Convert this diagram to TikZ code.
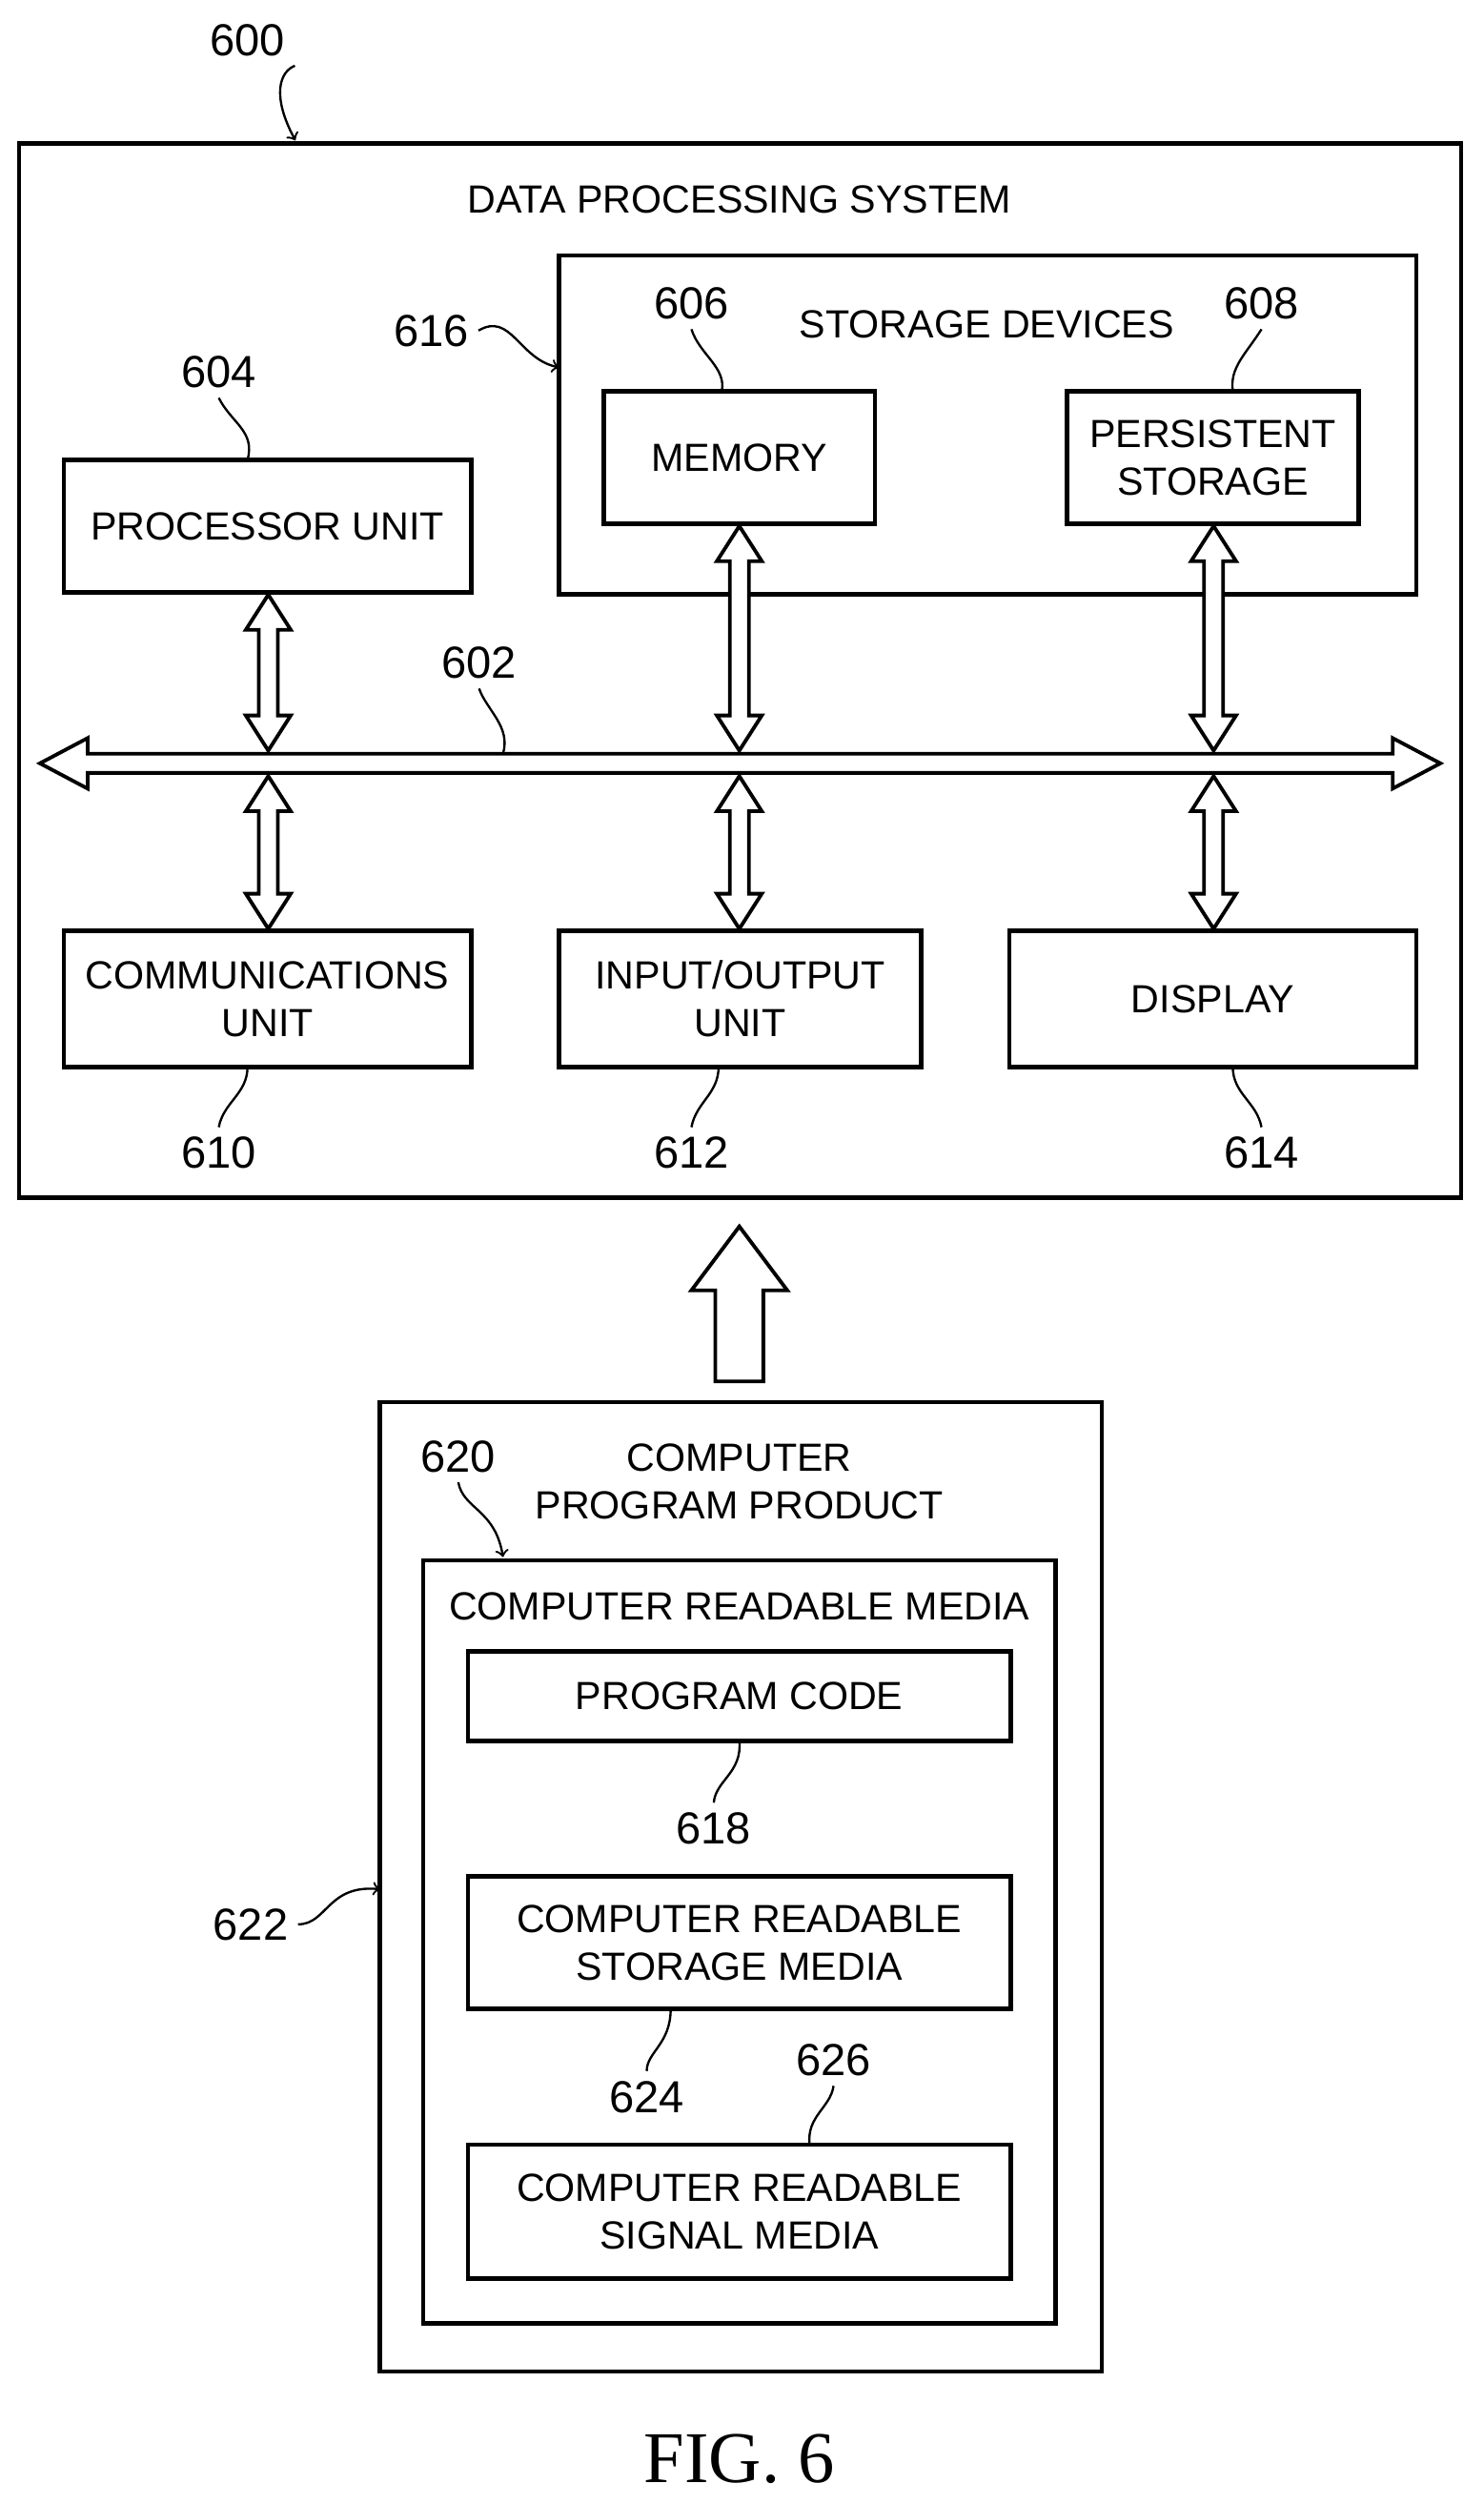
\documentclass[tikz,border=0pt]{standalone}
\usepackage{fontspec}
\setmainfont{Liberation Sans}
\newfontfamily\figfont{Liberation Serif}
\usetikzlibrary{calc}

\tikzset{
  box/.style={draw, line width=1.6pt, inner sep=0pt},
  lbl/.style={font=\fontsize{14}{17}\selectfont, align=center},
  num/.style={font=\fontsize{16}{18}\selectfont},
  lead/.style={line width=0.8pt},
  fat/.style={draw, line width=1.3pt, fill=white, line join=miter},
}
% vertical hollow double arrow between two points on one x
\newcommand\updown[2]{%
  \path[fat] let \p1=(#1), \p2=(#2) in
    (\x1,\y1) -- (\x1+8pt,\y1-12.5pt) -- (\x1+3.4pt,\y1-12.5pt) --
    (\x1+3.4pt,\y2+12.5pt) -- (\x1+8pt,\y2+12.5pt) -- (\x1,\y2) --
    (\x1-8pt,\y2+12.5pt) -- (\x1-3.4pt,\y2+12.5pt) --
    (\x1-3.4pt,\y1-12.5pt) -- (\x1-8pt,\y1-12.5pt) -- cycle;}

\begin{document}
\begin{tikzpicture}[x=0.02cm, y=-0.02cm]
  \useasboundingbox (0,0) rectangle (929,1568);

  % data processing system
  \draw[box] (12,90) rectangle (915,750);
  \node[lbl] (dps) at (463,125) {DATA PROCESSING SYSTEM};
  \draw[box] (350,160) rectangle (887,372);
  \node[lbl] (sd) at (618,203) {STORAGE DEVICES};

  \node[box, lbl, minimum width=3.4cm, minimum height=1.66cm] (mem) at (463,286.5) {MEMORY};
  \node[box, lbl, minimum width=3.66cm, minimum height=1.66cm] (pers) at (759.5,286.5) {PERSISTENT\\STORAGE};
  \node[box, lbl, minimum width=5.1cm, minimum height=1.66cm] (proc) at (167.5,329.5) {PROCESSOR UNIT};
  \node[box, lbl, minimum width=5.1cm, minimum height=1.7cm] (comm) at (167.5,625.5) {COMMUNICATIONS\\UNIT};
  \node[box, lbl, minimum width=4.54cm, minimum height=1.7cm] (io) at (463.5,625.5) {INPUT/OUTPUT\\UNIT};
  \node[box, lbl, minimum width=5.1cm, minimum height=1.7cm] (disp) at (759.5,625.5) {DISPLAY};

  % bus taps
  \coordinate (b1) at (168,470); \coordinate (b2) at (168,486);
  \coordinate (b3) at (463,470); \coordinate (b4) at (463,486);
  \coordinate (b5) at (760,470); \coordinate (b6) at (760,486);
  \updown{proc.south-|b1}{b1}
  \updown{b2}{comm.north-|b2}
  \updown{mem.south}{b3}
  \updown{b4}{io.north-|b4}
  \updown{pers.south-|b5}{b5}
  \updown{b6}{disp.north-|b6}

  % bus
  \coordinate (busl) at (25,478); \coordinate (busr) at (902,478);
  \path[fat] let \p1=(busl), \p2=(busr) in
    (\x1,\y1) -- (\x1+17pt,\y1+9pt) -- (\x1+17pt,\y1+3.4pt) --
    (\x2-17pt,\y1+3.4pt) -- (\x2-17pt,\y1+9pt) -- (\x2,\y1) --
    (\x2-17pt,\y1-9pt) -- (\x2-17pt,\y1-3.4pt) --
    (\x1+17pt,\y1-3.4pt) -- (\x1+17pt,\y1-9pt) -- cycle;

  % reference numbers
  \node[num] (n600) at (155,25) {600};
  \draw[lead, ->] (n600.south east) .. controls (175,45) and (170,60) .. (185,88);
  \node[num] (n604) at (137,233) {604};
  \draw[lead] (n604.south) .. controls (145,265) and (160,270) .. (155,288);
  \node[num] (n606) at (433,190) {606};
  \draw[lead] (n606.south) .. controls (438,222) and (455,230) .. (452,245);
  \node[num] (n608) at (790,190) {608};
  \draw[lead] (n608.south) .. controls (780,222) and (770,230) .. (772,245);
  \node[num] (n616) at (270,207) {616};
  \coordinate (s616) at (350,230);
  \draw[lead, ->] (n616.east) .. controls (320,195) and (325,225) .. (s616);
  \node[num] (n602) at (300,415) {602};
  \draw[lead] (n602.south) .. controls (305,445) and (320,455) .. (315,472);
  \node[num] (n610) at (137,722) {610};
  \draw[lead] (n610.north) .. controls (140,690) and (155,685) .. (155,668);
  \node[num] (n612) at (433,722) {612};
  \draw[lead] (n612.north) .. controls (436,690) and (450,685) .. (450,668);
  \node[num] (n614) at (790,722) {614};
  \draw[lead] (n614.north) .. controls (787,690) and (772,685) .. (772,668);

  % computer program product
  \path[fat] (463,768) -- (493,808) -- (478,808) -- (478,865) -- (448,865) -- (448,808) -- (433,808) -- cycle;
  \draw[box] (238,878) rectangle (690,1485);
  \node[lbl] (cpp) at (463,928) {COMPUTER\\PROGRAM PRODUCT};
  \draw[box] (265,977) rectangle (661,1455);
  \node[lbl] (crm) at (463,1006) {COMPUTER READABLE MEDIA};
  \node[box, lbl, minimum width=6.8cm, minimum height=1.12cm] (code) at (463,1062) {PROGRAM CODE};
  \node[box, lbl, minimum width=6.8cm, minimum height=1.66cm] (stor) at (463,1216.5) {COMPUTER READABLE\\STORAGE MEDIA};
  \node[box, lbl, minimum width=6.8cm, minimum height=1.68cm] (sig) at (463,1385) {COMPUTER READABLE\\SIGNAL MEDIA};

  \node[num] (n620) at (287,912) {620};
  \draw[lead, ->] (n620.south) .. controls (290,945) and (310,945) .. (315,975);
  \node[num] (n618) at (447,1145) {618};
  \draw[lead] (n618.north) .. controls (448,1115) and (465,1110) .. (463,1090);
  \node[num] (n624) at (405,1313) {624};
  \draw[lead] (n624.north) .. controls (405,1285) and (420,1280) .. (420,1258);
  \node[num] (n626) at (522,1290) {626};
  \draw[lead] (n626.south) .. controls (520,1320) and (505,1325) .. (507,1343);
  \node[num] (n622) at (157,1205) {622};
  \draw[lead, ->] (n622.east) .. controls (205,1205) and (205,1180) .. (238,1183);

  \node[font=\figfont\fontsize{26}{30}\selectfont] (fig) at (463,1540) {FIG. 6};
\end{tikzpicture}
\end{document}
